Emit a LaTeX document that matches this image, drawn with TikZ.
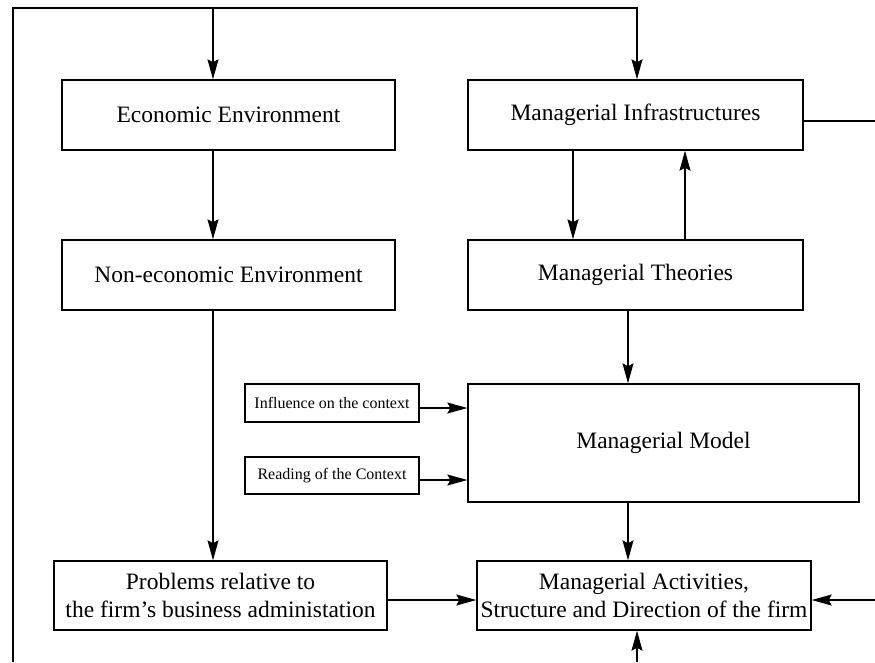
\documentclass[tikz,border=0pt]{standalone}
\usepackage{fontspec}
\setmainfont{Liberation Serif}
\usetikzlibrary{positioning,arrows.meta}

\begin{document}
\begin{tikzpicture}[
    x=1pt, y=-1pt,
    block/.style={rectangle, draw, line width=1.4pt, minimum width=333pt, minimum height=70pt,
        align=center, inner xsep=0pt, font=\fontsize{23.5}{28}\selectfont},
    smallblock/.style={rectangle, draw, line width=1.4pt, minimum width=174pt, minimum height=38pt,
        inner xsep=0pt, font=\fontsize{16}{19}\selectfont},
    link/.style={line width=1.1pt},
    arr/.style={link, -{Stealth[length=20pt,width=11pt,inset=3pt]}},
]
\useasboundingbox (0,0) rectangle (875,662);

% Left column
\node[block] (econ) at (228.5,115) {Economic Environment};
\node[block] (nonecon) at (228.5,275) {Non-economic Environment};
\node[block, minimum height=69pt] (problems) at (220.5,595.5) {Problems relative to\\the firm's business administation};

% Right column
\node[block, minimum width=335pt] (infra) at (635.5,115) {Managerial Infrastructures};
\node[block, minimum width=335pt] (theories) at (635.5,275) {Managerial Theories};
\node[block, minimum width=391pt, minimum height=118pt] (model) at (663.5,443) {Managerial Model};
\node[block, minimum width=334pt, minimum height=69pt] (activities) at (644,595.5) {Managerial Activities,\\Structure and Direction of the firm};

% Context boxes
\node[smallblock] (influence) at (332,403) {Influence on the context};
\node[smallblock, minimum height=37pt] (reading) at (332,475.5) {Reading of the Context};

% Free ends
\coordinate (topL) at (13,8);
\coordinate (botL) at (13,662);
\coordinate (lcol) at (213,8);
\coordinate (infraOut) at (875,121);
\coordinate (actIn) at (875,600);
\coordinate (actBot) at (637,662);

% Frame and top arrows
\draw[arr] (botL) -- (topL) -| ([xshift=1.5pt]infra.north);
\draw[arr] (lcol) -- (lcol |- econ.north);

% Left column connections
\draw[arr] (lcol |- econ.south) -- (lcol |- nonecon.north);
\draw[arr] (lcol |- nonecon.south) -- (lcol |- problems.north);
\draw[arr] (problems.east |- actIn) -- (activities.west |- actIn);

% Right column connections
\draw[arr] ([xshift=-62.5pt]infra.south) -- ([xshift=-62.5pt]theories.north);
\draw[arr] ([xshift=49.5pt]theories.north) -- ([xshift=49.5pt]infra.south);
\draw[arr] ([xshift=-7.5pt]theories.south) -- ([xshift=-35.5pt]model.north);
\draw[arr] ([xshift=-35.5pt]model.south) -- ([xshift=-16pt]activities.north);
\draw[link] (infraOut) -- (infraOut -| infra.east);
\draw[arr] (actIn) -- (actIn -| activities.east);
\draw[arr] (actBot) -- (actBot |- activities.south);

% Context inputs
\draw[arr] ([yshift=-5pt]influence.east) -- ([yshift=-5pt]model.west |- influence.east);
\draw[arr] ([yshift=-4.5pt]reading.east) -- ([yshift=-4.5pt]model.west |- reading.east);

\end{tikzpicture}
\end{document}
